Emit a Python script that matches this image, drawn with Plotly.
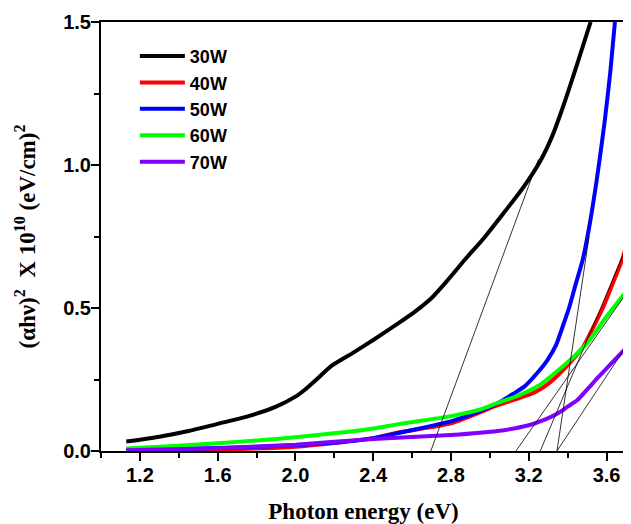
import plotly.graph_objects as go

# ---- data ----
series_names = ["30W", "40W", "50W", "60W", "70W"]
series_colors = ["#000000", "#FF0000", "#0000FF", "#00FF00", "#8000FF"]

x_30 = [1.13, 1.3, 1.45, 1.6, 1.75, 1.9, 2.0, 2.05, 2.1, 2.19, 2.3, 2.4, 2.53, 2.62,
        2.70, 2.78, 2.87, 2.97, 3.08, 3.17, 3.26, 3.32, 3.382, 3.45, 3.518]
y_30 = [0.033, 0.050, 0.070, 0.095, 0.12, 0.155, 0.19, 0.215, 0.245, 0.30, 0.345, 0.388,
        0.447, 0.49, 0.535, 0.595, 0.668, 0.745, 0.84, 0.92, 1.015, 1.10, 1.215, 1.355, 1.5]

x_40 = [1.13, 1.6, 2.0, 2.4, 2.53, 2.8, 3.04, 3.15, 3.23, 3.3, 3.36, 3.42, 3.48, 3.53,
        3.58, 3.64, 3.68, 3.71]
y_40 = [0.002, 0.005, 0.015, 0.045, 0.065, 0.097, 0.16, 0.185, 0.205, 0.235, 0.272,
        0.315, 0.365, 0.43, 0.499, 0.6, 0.668, 0.74]

x_50 = [1.13, 1.4, 1.7, 2.0, 2.27, 2.4, 2.53, 2.7, 2.82, 2.95, 3.04, 3.12, 3.177, 3.24,
        3.296, 3.34, 3.382, 3.407, 3.44, 3.477, 3.51, 3.55, 3.59, 3.62, 3.643]
y_50 = [0.004, 0.007, 0.012, 0.02, 0.033, 0.045, 0.063, 0.088, 0.108, 0.14, 0.167, 0.20,
        0.225, 0.27, 0.318, 0.37, 0.45, 0.50, 0.58, 0.668, 0.78, 0.95, 1.15, 1.33, 1.5]

x_60 = [1.13, 1.4, 1.6, 1.8, 2.0, 2.2, 2.4, 2.53, 2.8, 2.95, 3.04, 3.15, 3.25, 3.33,
        3.4, 3.5, 3.6, 3.7]
y_60 = [0.009, 0.018, 0.027, 0.037, 0.048, 0.062, 0.079, 0.094, 0.122, 0.145, 0.168,
        0.195, 0.228, 0.27, 0.31, 0.377, 0.47, 0.557]

x_70 = [1.13, 1.6, 2.0, 2.4, 2.8, 3.04, 3.2, 3.3, 3.35, 3.4, 3.45, 3.5, 3.56, 3.63, 3.7]
y_70 = [0.003, 0.01, 0.022, 0.042, 0.056, 0.07, 0.09, 0.115, 0.132, 0.155, 0.178,
        0.215, 0.26, 0.31, 0.36]

series_x = [x_30, x_40, x_50, x_60, x_70]
series_y = [y_30, y_40, y_50, y_60, y_70]

# tangent (Tauc extrapolation) lines: start (on x axis) and end points
tangent_x0 = [2.696, 3.259, 3.345, 3.134, 3.345]
tangent_y0 = [0.0, 0.0, 0.0, 0.0, 0.0]
tangent_x1 = [3.25, 3.70, 3.51, 3.70, 3.70]
tangent_y1 = [1.02, 0.71, 0.75, 0.55, 0.365]

x_ticks = [1.2, 1.6, 2.0, 2.4, 2.8, 3.2, 3.6]
y_ticks = [0.0, 0.5, 1.0, 1.5]
x_range = [1.0, 3.7]
y_range = [0.0, 1.5]

fig = go.Figure()
for name, col, xs, ys in zip(series_names, series_colors, series_x, series_y):
    fig.add_trace(go.Scatter(x=xs, y=ys, mode="lines", name=name,
                             line=dict(color=col, width=4, shape="spline", smoothing=0.6)))

for x0, y0, x1, y1 in zip(tangent_x0, tangent_y0, tangent_x1, tangent_y1):
    fig.add_trace(go.Scatter(x=[x0, x1], y=[y0, y1], mode="lines", showlegend=False,
                             line=dict(color="black", width=0.8), hoverinfo="skip"))

tickfont = dict(family="Liberation Sans, Arial", size=20, color="black", weight="bold")
titlefont = dict(family="Liberation Serif, Times New Roman", size=23, color="black")

fig.update_layout(
    width=623, height=516,
    margin=dict(l=93, r=3, t=14, b=73),
    paper_bgcolor="white", plot_bgcolor="white",
    showlegend=True,
    legend=dict(x=0.0645, y=0.963, xanchor="left", yanchor="top",
                bgcolor="rgba(0,0,0,0)", borderwidth=0,
                font=dict(family="Liberation Sans, Arial", size=18, color="black", weight="bold"),
                itemwidth=45),
    xaxis=dict(range=x_range, tickvals=x_ticks, ticktext=[f"{v:.1f}" for v in x_ticks],
               ticks="outside", ticklen=8, tickwidth=2, tickcolor="black",
               ticklabelstandoff=-3,
               minor=dict(dtick=0.2, tick0=1.0, ticks="outside", ticklen=5, tickwidth=2, tickcolor="black"),
               showline=True, linecolor="black", linewidth=2, mirror=True,
               showgrid=False, zeroline=False, tickfont=tickfont,
               title=dict(text="<b>Photon energy (eV)</b>", font=titlefont, standoff=19)),
    yaxis=dict(range=y_range, tickvals=y_ticks, ticktext=[f"{v:.1f}" for v in y_ticks],
               ticks="outside", ticklen=8, tickwidth=2, tickcolor="black",
               ticklabelstandoff=-4,
               minor=dict(dtick=0.25, tick0=0, ticks="outside", ticklen=5, tickwidth=2, tickcolor="black"),
               showline=True, linecolor="black", linewidth=2, mirror=True,
               showgrid=False, zeroline=False, tickfont=tickfont,
               title=dict(text="<b>(\u03b1h\u03bd)<sup>2</sup>  X 10<sup>10</sup> (eV/cm)<sup>2</sup></b>",
                          font=titlefont, standoff=21)),
    xaxis2=dict(range=x_range, overlaying="x", side="top", anchor="y",
                tickvals=x_ticks, showticklabels=False,
                ticks="inside", ticklen=7, tickwidth=2, tickcolor="black",
                minor=dict(dtick=0.2, tick0=1.0, ticks="inside", ticklen=4, tickwidth=2, tickcolor="black"),
                showline=False, showgrid=False, zeroline=False),
    yaxis2=dict(range=y_range, overlaying="y", side="right", anchor="x",
                tickvals=y_ticks, showticklabels=False,
                ticks="inside", ticklen=7, tickwidth=2, tickcolor="black",
                minor=dict(dtick=0.25, tick0=0, ticks="inside", ticklen=4, tickwidth=2, tickcolor="black"),
                showline=False, showgrid=False, zeroline=False),
)

fig.write_html("out.html")
